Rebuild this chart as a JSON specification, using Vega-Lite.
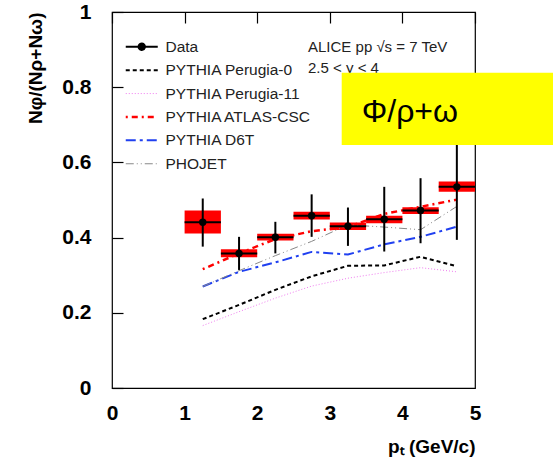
{
  "$schema": "https://vega.github.io/schema/vega-lite/v6.json",
  "autosize": "none",
  "width": 363,
  "height": 376,
  "padding": {"left": 112, "top": 12, "right": 78, "bottom": 72},
  "background": "white",
  "config": {
    "font": "Liberation Sans",
    "view": {"stroke": "black", "strokeWidth": 1.2},
    "axis": {
      "domain": false, "grid": true, "ticks": false, "labelOverlap": false, "labelFlush": false, "labelBound": false,
      "gridColor": "black", "gridWidth": 1.2, "gridOpacity": 1, "gridDash": [11, 2000],
      "labelFont": "Liberation Sans", "labelFontWeight": "bold", "labelFontSize": 21, "labelColor": "black",
      "titleFont": "Liberation Sans", "titleFontWeight": "bold", "titleFontSize": 19, "titleColor": "black"
    }
  },
  "datasets": {
    "points": [
      {"pt": 1.25, "lo": 1.0, "hi": 1.5, "y": 0.441, "eLo": 0.376, "eHi": 0.504, "sLo": 0.411, "sHi": 0.472},
      {"pt": 1.75, "lo": 1.5, "hi": 2.0, "y": 0.358, "eLo": 0.314, "eHi": 0.402, "sLo": 0.348, "sHi": 0.369},
      {"pt": 2.25, "lo": 2.0, "hi": 2.5, "y": 0.401, "eLo": 0.358, "eHi": 0.442, "sLo": 0.392, "sHi": 0.41},
      {"pt": 2.75, "lo": 2.5, "hi": 3.0, "y": 0.458, "eLo": 0.402, "eHi": 0.515, "sLo": 0.448, "sHi": 0.469},
      {"pt": 3.25, "lo": 3.0, "hi": 3.5, "y": 0.43, "eLo": 0.378, "eHi": 0.48, "sLo": 0.42, "sHi": 0.44},
      {"pt": 3.75, "lo": 3.5, "hi": 4.0, "y": 0.449, "eLo": 0.363, "eHi": 0.535, "sLo": 0.438, "sHi": 0.458},
      {"pt": 4.25, "lo": 4.0, "hi": 4.5, "y": 0.472, "eLo": 0.385, "eHi": 0.558, "sLo": 0.463, "sHi": 0.481},
      {"pt": 4.75, "lo": 4.5, "hi": 5.0, "y": 0.535, "eLo": 0.394, "eHi": 0.72, "sLo": 0.522, "sHi": 0.549}
    ],
    "models": [
      {"series": "PYTHIA Perugia-0", "pt": 1.25, "v": 0.183},
      {"series": "PYTHIA Perugia-0", "pt": 1.75, "v": 0.221},
      {"series": "PYTHIA Perugia-0", "pt": 2.25, "v": 0.261},
      {"series": "PYTHIA Perugia-0", "pt": 2.75, "v": 0.297},
      {"series": "PYTHIA Perugia-0", "pt": 3.25, "v": 0.325},
      {"series": "PYTHIA Perugia-0", "pt": 3.75, "v": 0.326},
      {"series": "PYTHIA Perugia-0", "pt": 4.25, "v": 0.349},
      {"series": "PYTHIA Perugia-0", "pt": 4.75, "v": 0.324},
      {"series": "PYTHIA Perugia-11", "pt": 1.25, "v": 0.166},
      {"series": "PYTHIA Perugia-11", "pt": 1.75, "v": 0.203},
      {"series": "PYTHIA Perugia-11", "pt": 2.25, "v": 0.239},
      {"series": "PYTHIA Perugia-11", "pt": 2.75, "v": 0.271},
      {"series": "PYTHIA Perugia-11", "pt": 3.25, "v": 0.292},
      {"series": "PYTHIA Perugia-11", "pt": 3.75, "v": 0.307},
      {"series": "PYTHIA Perugia-11", "pt": 4.25, "v": 0.32},
      {"series": "PYTHIA Perugia-11", "pt": 4.75, "v": 0.309},
      {"series": "PYTHIA ATLAS-CSC", "pt": 1.25, "v": 0.316},
      {"series": "PYTHIA ATLAS-CSC", "pt": 1.75, "v": 0.358},
      {"series": "PYTHIA ATLAS-CSC", "pt": 2.25, "v": 0.396},
      {"series": "PYTHIA ATLAS-CSC", "pt": 2.75, "v": 0.417},
      {"series": "PYTHIA ATLAS-CSC", "pt": 3.25, "v": 0.428},
      {"series": "PYTHIA ATLAS-CSC", "pt": 3.75, "v": 0.463},
      {"series": "PYTHIA ATLAS-CSC", "pt": 4.25, "v": 0.482},
      {"series": "PYTHIA ATLAS-CSC", "pt": 4.75, "v": 0.501},
      {"series": "PYTHIA D6T", "pt": 1.25, "v": 0.27},
      {"series": "PYTHIA D6T", "pt": 1.75, "v": 0.309},
      {"series": "PYTHIA D6T", "pt": 2.25, "v": 0.334},
      {"series": "PYTHIA D6T", "pt": 2.75, "v": 0.362},
      {"series": "PYTHIA D6T", "pt": 3.25, "v": 0.355},
      {"series": "PYTHIA D6T", "pt": 3.75, "v": 0.382},
      {"series": "PYTHIA D6T", "pt": 4.25, "v": 0.402},
      {"series": "PYTHIA D6T", "pt": 4.75, "v": 0.429},
      {"series": "PHOJET", "pt": 1.25, "v": 0.27},
      {"series": "PHOJET", "pt": 1.75, "v": 0.312},
      {"series": "PHOJET", "pt": 2.25, "v": 0.352},
      {"series": "PHOJET", "pt": 2.75, "v": 0.39},
      {"series": "PHOJET", "pt": 3.25, "v": 0.434},
      {"series": "PHOJET", "pt": 3.75, "v": 0.428},
      {"series": "PHOJET", "pt": 4.25, "v": 0.421},
      {"series": "PHOJET", "pt": 4.75, "v": 0.483}
    ]
  },
  "layer": [
    {
      "layer": [
        {
          "data": {"name": "points"},
          "mark": {"type": "rect", "fill": "#ff0000"},
          "encoding": {
            "x": {"field": "lo", "type": "quantitative", "scale": {"domain": [0, 5], "nice": false, "zero": false},
              "axis": {
                "orient": "bottom", "values": [0, 1, 2, 3, 4, 5], "format": "d",
                "labelPadding": 14, "labelBaseline": "top",
                "title": "pₜ (GeV/c)",
                "titleAnchor": "end", "titleAlign": "right", "titleX": 363, "titleY": 64, "titleBaseline": "alphabetic"
              }},
            "x2": {"field": "hi"},
            "y": {"field": "sLo", "type": "quantitative", "scale": {"domain": [0, 1], "nice": false},
              "axis": {
                "orient": "left", "values": [0, 0.2, 0.4, 0.6, 0.8, 1], "format": "~g",
                "labelPadding": 21,
                "title": "Nφ/(Nρ+Nω)",
                "titleAngle": -90, "titleAlign": "right", "titleX": -77, "titleY": 0, "titleBaseline": "middle"
              }},
            "y2": {"field": "sHi"}
          }
        },
        {
          "data": {"name": "models"},
          "mark": {"type": "line"},
          "encoding": {
            "x": {"field": "pt", "type": "quantitative"},
            "y": {"field": "v", "type": "quantitative"},
            "color": {"field": "series", "type": "nominal",
              "scale": {"domain": ["Data", "PYTHIA Perugia-0", "PYTHIA Perugia-11", "PYTHIA ATLAS-CSC", "PYTHIA D6T", "PHOJET"],
                        "range": ["#000000", "#000000", "#f07cf0", "#ff0000", "#2040f0", "#888888"]},
              "legend": {
                "orient": "none", "legendX": 22, "legendY": 27, "title": null, "padding": 0,
                "symbolType": "M-1.6,0H1.6", "symbolSize": 400, "rowPadding": 6.4, "labelOffset": 16,
                "labelFont": "Liberation Sans", "labelFontSize": 15.5, "labelColor": "#222",
                "encode": {"symbols": {"update": {
                  "shape": {"signal": "datum.value === 'Data' ? 'M-1.6,0H1.6M-0.32,0A0.32,0.32,0,1,1,0.32,0A0.32,0.32,0,1,1,-0.32,0Z' : 'M-1.6,0H1.6'"},
                  "fill": {"signal": "datum.value === 'Data' ? 'black' : 'transparent'"},
                  "strokeWidth": {"signal": "datum.value === 'PYTHIA ATLAS-CSC' ? 2.5 : (datum.value === 'PYTHIA Perugia-11' || datum.value === 'PHOJET') ? 1 : 2"}
                }}}
              }},
            "strokeDash": {"field": "series", "type": "nominal",
              "scale": {"domain": ["Data", "PYTHIA Perugia-0", "PYTHIA Perugia-11", "PYTHIA ATLAS-CSC", "PYTHIA D6T", "PHOJET"],
                        "range": [[1, 0], [4, 3], [1, 2], [2, 4, 6, 4], [10, 4, 3, 4], [8, 3, 1, 3, 1, 3]]},
              "legend": {
                "orient": "none", "legendX": 22, "legendY": 27, "title": null, "padding": 0,
                "symbolType": "M-1.6,0H1.6", "symbolSize": 400, "rowPadding": 6.4, "labelOffset": 16,
                "labelFont": "Liberation Sans", "labelFontSize": 15.5, "labelColor": "#222"
              }},
            "strokeWidth": {"condition": [
              {"test": "datum.series === 'PYTHIA ATLAS-CSC'", "value": 2.5},
              {"test": "datum.series === 'PYTHIA Perugia-11' || datum.series === 'PHOJET'", "value": 1}
            ], "value": 2}
          }
        },
        {
          "data": {"name": "points"},
          "mark": {"type": "rule", "color": "black", "strokeWidth": 2},
          "encoding": {
            "x": {"field": "lo", "type": "quantitative"},
            "x2": {"field": "hi"},
            "y": {"field": "y", "type": "quantitative"}
          }
        },
        {
          "data": {"name": "points"},
          "mark": {"type": "rule", "color": "black", "strokeWidth": 2},
          "encoding": {
            "x": {"field": "pt", "type": "quantitative"},
            "y": {"field": "eLo", "type": "quantitative"},
            "y2": {"field": "eHi"}
          }
        },
        {
          "data": {"name": "points"},
          "mark": {"type": "circle", "color": "black", "opacity": 1, "size": 55},
          "encoding": {
            "x": {"field": "pt", "type": "quantitative"},
            "y": {"field": "y", "type": "quantitative"}
          }
        },
        {
          "data": {"values": [{"note": "ALICE pp  √s = 7 TeV\n2.5 < y < 4"}]},
          "mark": {"type": "text", "align": "left", "baseline": "alphabetic", "font": "Liberation Sans", "fontSize": 15, "lineHeight": 21, "lineBreak": "\n", "color": "#222"},
          "encoding": {
            "x": {"datum": 2.7, "type": "quantitative"},
            "y": {"datum": 0.894, "type": "quantitative"},
            "text": {"field": "note"}
          }
        },
        {
          "data": {"values": [{}]},
          "mark": {"type": "rect", "fill": "#ffff00", "clip": false},
          "encoding": {
            "x": {"datum": 3.164, "type": "quantitative"},
            "x2": {"datum": 6.1},
            "y": {"datum": 0.8386, "type": "quantitative"},
            "y2": {"datum": 0.646}
          }
        },
        {
          "data": {"values": [{"label": "Φ/ρ+ω"}]},
          "mark": {"type": "text", "align": "left", "baseline": "alphabetic", "font": "Liberation Sans", "fontSize": 32, "color": "black"},
          "encoding": {
            "x": {"datum": 3.44, "type": "quantitative"},
            "y": {"datum": 0.707, "type": "quantitative"},
            "text": {"field": "label"}
          }
        }
      ]
    },
    {
      "data": {"name": "points"},
      "mark": {"type": "point", "opacity": 0},
      "encoding": {
        "x": {"field": "pt", "type": "quantitative", "scale": {"domain": [0, 5], "nice": false, "zero": false},
          "axis": {"orient": "bottom", "labels": false, "title": null, "gridDash": [5, 2000],
            "values": [0.2,0.4,0.6,0.8,1.2,1.4,1.6,1.8,2.2,2.4,2.6,2.8,3.2,3.4,3.6,3.8,4.2,4.4,4.6,4.8]}},
        "y": {"field": "y", "type": "quantitative", "scale": {"domain": [0, 1], "nice": false},
          "axis": {"orient": "left", "labels": false, "title": null, "gridDash": [6, 2000],
            "values": [0.05,0.1,0.15,0.25,0.3,0.35,0.45,0.5,0.55,0.65,0.7,0.75,0.85,0.9,0.95]}}
      }
    },
    {
      "data": {"name": "points"},
      "mark": {"type": "point", "opacity": 0},
      "encoding": {
        "x": {"field": "pt", "type": "quantitative", "scale": {"domain": [0, 5], "nice": false, "zero": false},
          "axis": {"orient": "top", "labels": false, "title": null, "gridDash": [11, 2000],
            "values": [1, 2, 3, 4]}},
        "y": {"field": "y", "type": "quantitative", "scale": {"domain": [0, 1], "nice": false},
          "axis": {"orient": "right", "labels": false, "title": null, "gridDash": [11, 2000],
            "values": [0.2, 0.4, 0.6, 0.8]}}
      }
    },
    {
      "data": {"name": "points"},
      "mark": {"type": "point", "opacity": 0},
      "encoding": {
        "x": {"field": "pt", "type": "quantitative", "scale": {"domain": [0, 5], "nice": false, "zero": false},
          "axis": {"orient": "top", "labels": false, "title": null, "gridDash": [5, 2000],
            "values": [0.2,0.4,0.6,0.8,1.2,1.4,1.6,1.8,2.2,2.4,2.6,2.8,3.2,3.4,3.6,3.8,4.2,4.4,4.6,4.8]}},
        "y": {"field": "y", "type": "quantitative", "scale": {"domain": [0, 1], "nice": false},
          "axis": {"orient": "right", "labels": false, "title": null, "gridDash": [6, 2000],
            "values": [0.05,0.1,0.15,0.25,0.3,0.35,0.45,0.5,0.55,0.65,0.7,0.75,0.85,0.9,0.95]}}
      }
    }
  ],
  "resolve": {"scale": {"x": "independent", "y": "independent"}}
}
